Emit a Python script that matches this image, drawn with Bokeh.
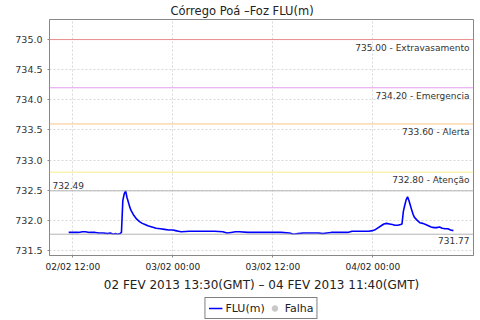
import pandas as pd
from bokeh.plotting import figure
from bokeh.layouts import column
from bokeh.models import (Range1d, FixedTicker, DatetimeTickFormatter, Span, Legend,
                          LegendItem, ColumnDataSource, NumeralTickFormatter)
from bokeh.core.properties import value
from bokeh.embed import file_html
from bokeh.resources import INLINE

# ---- data (local time) ----
times = [
    "2013-02-02 11:30", "2013-02-02 12:00", "2013-02-02 12:40", "2013-02-02 13:10", "2013-02-02 13:30",
    "2013-02-02 14:00", "2013-02-02 14:40", "2013-02-02 15:10", "2013-02-02 15:40", "2013-02-02 16:10",
    "2013-02-02 16:30", "2013-02-02 16:50", "2013-02-02 17:10", "2013-02-02 17:20", "2013-02-02 17:40",
    "2013-02-02 17:50", "2013-02-02 18:00", "2013-02-02 18:10", "2013-02-02 18:20", "2013-02-02 18:30",
    "2013-02-02 18:40", "2013-02-02 18:50", "2013-02-02 19:00", "2013-02-02 19:20", "2013-02-02 19:40",
    "2013-02-02 20:00", "2013-02-02 20:20", "2013-02-02 20:40", "2013-02-02 21:00", "2013-02-02 21:30",
    "2013-02-02 22:00", "2013-02-02 22:30", "2013-02-02 23:00", "2013-02-02 23:30", "2013-02-03 00:00",
    "2013-02-03 00:20", "2013-02-03 00:40", "2013-02-03 01:00", "2013-02-03 02:00", "2013-02-03 03:00",
    "2013-02-03 04:00", "2013-02-03 05:00", "2013-02-03 06:00", "2013-02-03 06:30", "2013-02-03 07:00",
    "2013-02-03 07:30", "2013-02-03 08:00", "2013-02-03 09:00", "2013-02-03 10:00", "2013-02-03 11:00",
    "2013-02-03 12:00", "2013-02-03 13:00", "2013-02-03 14:00", "2013-02-03 14:30", "2013-02-03 15:00",
    "2013-02-03 15:40", "2013-02-03 16:30", "2013-02-03 17:30", "2013-02-03 18:00", "2013-02-03 18:30",
    "2013-02-03 19:00", "2013-02-03 20:00", "2013-02-03 21:00", "2013-02-03 21:30", "2013-02-03 22:30",
    "2013-02-03 23:30", "2013-02-04 00:00", "2013-02-04 00:20", "2013-02-04 00:40", "2013-02-04 01:00",
    "2013-02-04 01:20", "2013-02-04 01:40", "2013-02-04 02:00", "2013-02-04 02:20", "2013-02-04 02:40",
    "2013-02-04 03:00", "2013-02-04 03:20", "2013-02-04 03:30", "2013-02-04 03:40", "2013-02-04 03:50",
    "2013-02-04 04:00", "2013-02-04 04:10", "2013-02-04 04:20", "2013-02-04 04:30", "2013-02-04 04:40",
    "2013-02-04 04:50", "2013-02-04 05:00", "2013-02-04 05:20", "2013-02-04 05:40", "2013-02-04 06:00",
    "2013-02-04 06:20", "2013-02-04 06:40", "2013-02-04 07:00", "2013-02-04 07:20", "2013-02-04 07:40",
    "2013-02-04 08:00", "2013-02-04 08:20", "2013-02-04 08:40", "2013-02-04 09:00", "2013-02-04 09:20",
    "2013-02-04 09:40",
]
levels = [
    731.80, 731.80, 731.80, 731.81, 731.81,
    731.80, 731.80, 731.79, 731.79, 731.78,
    731.79, 731.77, 731.78, 731.77, 731.78,
    731.80, 732.33, 732.44, 732.49, 732.38,
    732.30, 732.22, 732.16, 732.08, 732.02,
    731.98, 731.95, 731.93, 731.91, 731.89,
    731.87, 731.86, 731.85, 731.84, 731.84,
    731.83, 731.82, 731.81, 731.82, 731.82,
    731.82, 731.82, 731.81, 731.79, 731.80,
    731.81, 731.81, 731.80, 731.80, 731.80,
    731.80, 731.80, 731.79, 731.77, 731.78,
    731.79, 731.79, 731.79, 731.78, 731.79,
    731.80, 731.80, 731.80, 731.82, 731.82,
    731.82, 731.83, 731.85, 731.88, 731.91,
    731.94, 731.95, 731.94, 731.93, 731.92,
    731.92, 731.93, 731.94, 732.15, 732.25,
    732.34, 732.39, 732.33, 732.25, 732.17,
    732.10, 732.05, 732.00, 731.96, 731.95,
    731.93, 731.91, 731.89, 731.88, 731.88,
    731.89, 731.87, 731.86, 731.86, 731.84,
    731.83,
]
limit_values = [735.00, 734.20, 733.60, 732.80]
limit_names = ["Extravasamento", "Emergencia", "Alerta", "Atenção"]
limit_colors = ["#e88c8c", "#e49cf0", "#f8c488", "#f8ea8c"]
x_tick_times = ["2013-02-02 12:00", "2013-02-03 00:00", "2013-02-03 12:00", "2013-02-04 00:00"]
y_ticks = [731.5, 732.0, 732.5, 733.0, 733.5, 734.0, 734.5, 735.0]
x_start, x_end = "2013-02-02 09:12", "2013-02-04 12:05"
y_start, y_end = 731.417, 735.333
title_text = "Córrego Poá –Foz FLU(m)"
x_label = "02 FEV 2013 13:30(GMT) – 04 FEV 2013 11:40(GMT)"
series_name = "FLU(m)"
fail_name = "Falha"

FONT = "DejaVu Sans"

t = pd.to_datetime(times)
src = ColumnDataSource(dict(t=t, v=levels))

p = figure(width=480, height=296, x_axis_type="datetime", output_backend="svg",
           toolbar_location=None,
           x_range=Range1d(pd.Timestamp(x_start), pd.Timestamp(x_end)),
           y_range=Range1d(y_start, y_end),
           min_border_left=49, min_border_right=7, min_border_top=19, min_border_bottom=41)

p.title.text = title_text
p.title.align = "left"
p.title.offset = 121
p.title.text_font = FONT
p.title.text_font_size = "11.5px"
p.title.text_font_style = "normal"
p.title.text_color = "#222222"
p.title.standoff = 3

p.outline_line_color = "#888888"
p.background_fill_color = "white"

for ax in (p.xaxis[0], p.yaxis[0]):
    ax.axis_line_color = "#888888"
    ax.major_tick_line_color = "#888888"
    ax.major_tick_out = 2
    ax.major_tick_in = 0
    ax.minor_tick_line_color = None
    ax.major_label_text_font = FONT
    ax.major_label_text_color = "#333333"
p.yaxis.major_label_text_font_size = "9.5px"
p.yaxis.major_label_standoff = 5
p.xaxis.major_label_text_font_size = "9px"
p.xaxis.major_label_text_color = "#222222"
p.xaxis.major_label_standoff = 4

p.xaxis.ticker = FixedTicker(ticks=[pd.Timestamp(s).value / 1e6 for s in x_tick_times])
fmt = "%d/%m %H:%M"
p.xaxis.formatter = DatetimeTickFormatter(minutes=fmt, hourmin=fmt, hours=fmt, days=fmt,
                                          months=fmt, years=fmt, context=None)
p.yaxis.ticker = FixedTicker(ticks=y_ticks)
p.yaxis.formatter = NumeralTickFormatter(format="0.0")

p.xaxis.axis_label = x_label
p.xaxis.axis_label_text_font = FONT
p.xaxis.axis_label_text_font_size = "12px"
p.xaxis.axis_label_text_font_style = "normal"
p.xaxis.axis_label_text_color = "#222222"
p.xaxis.axis_label_standoff = 3

for g in (p.xgrid[0], p.ygrid[0]):
    g.grid_line_color = "#d8d8d8"
    g.grid_line_dash = "2 2"
    g.grid_line_width = 1

# threshold lines
for v, c in zip(limit_values, limit_colors):
    p.add_layout(Span(location=v, dimension="width", line_color=c, line_width=1))

vmax, vmin = max(levels), min(levels)
for v in (vmax, vmin):
    p.add_layout(Span(location=v, dimension="width", line_color="#b4b4b4", line_width=1))

xe = pd.Timestamp(x_end)
xs = pd.Timestamp(x_start)
lab_src = ColumnDataSource(dict(
    x=[xe] * (len(limit_values) + 1),
    y=limit_values + [vmin],
    text=[f"{v:.2f} - {n}" for v, n in zip(limit_values, limit_names)] + [f"{vmin:.2f}"],
))
p.text(x="x", y="y", text="text", source=lab_src, text_align="right", text_baseline="top",
       x_offset=-4, y_offset=3, text_font=value(FONT), text_font_size="9px",
       text_color="#333333")
p.text(x=[xs], y=[vmax], text=[f"{vmax:.2f}"], text_align="left", text_baseline="bottom",
       x_offset=3, y_offset=-2, text_font=value(FONT), text_font_size="9px",
       text_color="#333333")

p.line(x="t", y="v", source=src, line_color="#0000ff", line_width=1.6)

# ---- legend strip below (its own small canvas; the series lies outside its range) ----
lf = figure(width=480, height=24, toolbar_location=None, output_backend="svg",
            x_range=Range1d(0, 1), y_range=Range1d(0, 1),
            min_border_left=0, min_border_right=0, min_border_top=0, min_border_bottom=0)
lf.xaxis.visible = False
lf.yaxis.visible = False
lf.xgrid.visible = False
lf.ygrid.visible = False
lf.outline_line_color = None
l_line = lf.line(x="t", y="v", source=src, line_color="#0000ff", line_width=1.6)
l_fail = lf.scatter(x="t", y="v", source=src, size=7, marker="circle",
                    fill_color="#c8c8c8", line_color="#c8c8c8")
legend = Legend(items=[LegendItem(label=series_name, renderers=[l_line]),
                       LegendItem(label=fail_name, renderers=[l_fail])],
                orientation="horizontal", location="center",
                border_line_color="black", border_line_width=1,
                label_text_font=FONT, label_text_font_size="11px",
                label_text_color="#222222", background_fill_color="white",
                glyph_width=14, glyph_height=14, label_standoff=3, spacing=3,
                padding=3, margin=0, label_height=14)
lf.add_layout(legend, "center")

open("out.html", "w").write(file_html(column(p, lf, spacing=0), INLINE))
